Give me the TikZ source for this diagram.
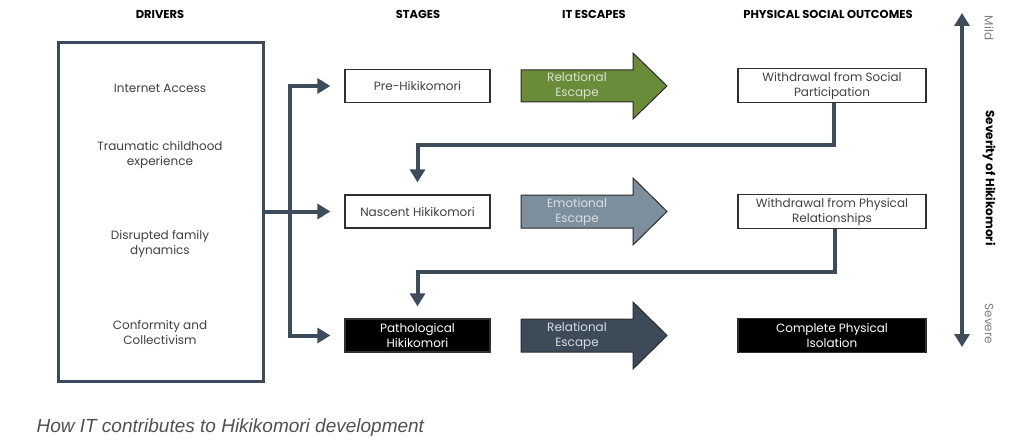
\documentclass[tikz,border=0pt]{standalone}
\usepackage{fontspec}
\setmainfont{Poppins}
\newfontfamily\capfont{Liberation Sans}
\usetikzlibrary{arrows.meta}
\definecolor{slate}{HTML}{3D4C5A}
\definecolor{boxedge}{HTML}{303030}
\definecolor{txtgray}{HTML}{404040}
\definecolor{escgreen}{HTML}{6A8C3A}
\definecolor{escgrey}{HTML}{7D8F9C}
\definecolor{escdark}{HTML}{3D4B59}
\definecolor{escedge}{HTML}{2B2B2B}
\definecolor{captxt}{HTML}{505050}

\begin{document}
\begin{tikzpicture}[x=1pt,y=-1pt,
  hdr/.style={font=\bfseries\fontsize{11.5}{13}\selectfont, text=black},
  lbl/.style={font=\fontsize{12}{15}\selectfont, text=txtgray, align=center},
  stagebox/.style={draw=boxedge, line width=1.3pt, minimum width=145pt, minimum height=33pt, inner sep=0pt, lbl},
  darkbox/.style={stagebox, fill=black, text=white},
  outbox/.style={stagebox, minimum width=188pt, minimum height=34pt},
  conn/.style={draw=slate, line width=4pt, line join=miter, -{Triangle[length=13pt,width=15pt]}},
  escarr/.style={draw=escedge, line width=1pt},
  esctxt/.style={lbl, text=#1}]
\useasboundingbox (0,0) rectangle (1012,441);

% Headers
\node[hdr] (hdrv) at (160,14) {DRIVERS};
\node[hdr] (hstg) at (418,14) {STAGES};
\node[hdr] (hesc) at (594,14) {IT ESCAPES};
\node[hdr] (hout) at (828,14) {PHYSICAL SOCIAL OUTCOMES};

% Drivers box
\node[draw=slate, line width=3pt, minimum width=205pt, minimum height=338pt] (drv) at (160.5,212) {};
\node[lbl] (d1) at (160,88) {Internet Access};
\node[lbl] (d2) at (160,155) {Traumatic childhood\\experience};
\node[lbl] (d3) at (160,244) {Disrupted family\\dynamics};
\node[lbl] (d4) at (160,332) {Conformity and\\Collectivism};

% Stages
\node[stagebox] (s1) at (417.5,86) {Pre-Hikikomori};
\node[stagebox] (s2) at (417.5,211.5) {Nascent Hikikomori};
\node[darkbox] (s3) at (417.5,335.5) {Pathological\\Hikikomori};

% IT escapes
\draw[escarr, fill=escgreen] (521,70) -- (633,70) -- (633,53) -- (667,86) -- (633,119) -- (633,102) -- (521,102) -- cycle;
\node[esctxt=escgreen!25] (e1) at (577,86) {Relational\\Escape};
\draw[escarr, fill=escgrey] (521,195) -- (633,195) -- (633,178) -- (667,211.5) -- (633,245) -- (633,228) -- (521,228) -- cycle;
\node[esctxt=escgrey!30] (e2) at (577,211.5) {Emotional\\Escape};
\draw[escarr, fill=escdark] (521,319) -- (633,319) -- (633,302) -- (667,335.5) -- (633,369) -- (633,352) -- (521,352) -- cycle;
\node[esctxt=escdark!20] (e3) at (577,335.5) {Relational\\Escape};

% Outcomes
\node[outbox] (o1) at (832,85.5) {Withdrawal from Social\\Participation};
\node[outbox] (o2) at (832,211.5) {Withdrawal from Physical\\Relationships};
\node[outbox, fill=black, text=white] (o3) at (832,335.5) {Complete Physical\\Isolation};

% Driver connectors
\coordinate (tr) at (290,211.5);
\draw[conn] (drv.east |- s2.west) -- ([xshift=-14pt]s2.west);
\draw[conn, {Triangle[length=13pt,width=15pt]}-{Triangle[length=13pt,width=15pt]}] ([xshift=-14pt]s1.west) -| (tr) |- ([xshift=-14pt]s3.west);

% Feedback connectors
\draw[conn] ([xshift=2pt]o1.south) |- ([yshift=49pt]s2.north) -- ([yshift=12pt]s2.north);
\draw[conn] ([xshift=3pt]o2.south) |- ([yshift=46pt]s3.north) -- ([yshift=12pt]s3.north);

% Severity scale
\coordinate (sevtop) at (962,13);
\coordinate (sevbot) at (962,347);
\draw[conn, {Triangle[length=13pt,width=15pt]}-{Triangle[length=13pt,width=15pt]}] (sevtop) -- (sevbot);
\node[lbl, rotate=-90, text=gray] (mild) at (989,28) {Mild};
\node[lbl, rotate=-90, font=\bfseries\fontsize{12}{14}\selectfont, text=black] (sev) at (989,178) {Severity of Hikikomori};
\node[lbl, rotate=-90, text=gray] (severe) at (989,324) {Severe};

% Caption
\node[anchor=west, font=\capfont\itshape\fontsize{19}{22}\selectfont, text=captxt] (cap) at (33,428) {How IT contributes to Hikikomori development};
\end{tikzpicture}
\end{document}
